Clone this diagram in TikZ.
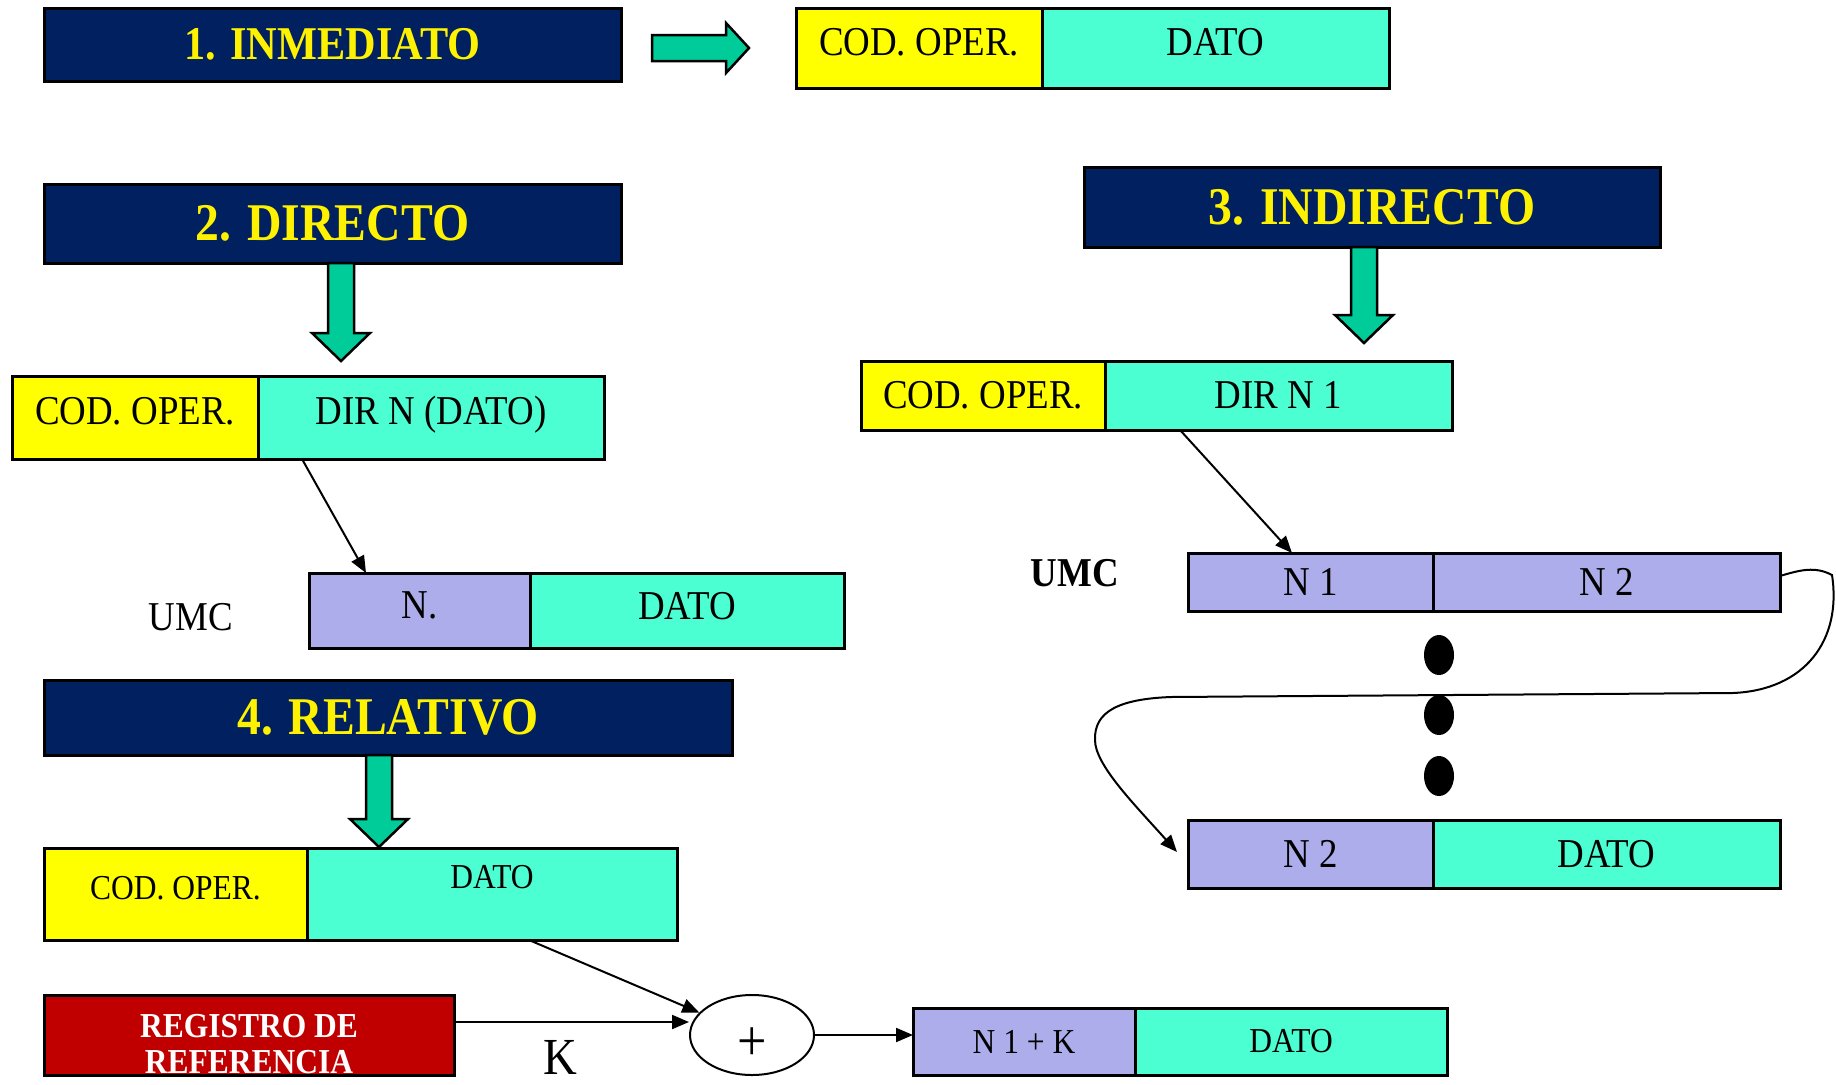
\documentclass[tikz,border=0pt]{standalone}
\usepackage{fontspec}
\setmainfont{Liberation Serif}[FakeStretch=0.9]
\usetikzlibrary{positioning,calc,arrows.meta,shapes.geometric}
\definecolor{hdrblue}{RGB}{0,32,96}
\definecolor{opyellow}{RGB}{255,255,0}
\definecolor{datagreen}{RGB}{75,255,210}
\definecolor{arrowgreen}{RGB}{0,204,153}
\definecolor{memblue}{RGB}{173,173,235}
\definecolor{regred}{RGB}{192,0,0}
\tikzset{
  cell/.style={
    draw,
    line width=3pt,
    inner sep=0pt,
    outer sep=0pt,
    anchor=north west,
    font=\fontsize{41}{44}\selectfont
  },
  hdr/.style={
    cell,
    fill=hdrblue,
    text=yellow,
    font=\fontsize{53}{56}\selectfont\bfseries
  },
  opcode/.style={cell, fill=opyellow},
  datafield/.style={cell, fill=datagreen},
  memcell/.style={cell, fill=memblue},
  small cell/.style={font=\fontsize{35}{38}\selectfont},
  blockarrow/.style={
    draw,
    line width=2.5pt,
    fill=arrowgreen,
    line join=miter
  },
  conn/.style={
    line width=2pt,
    -{Triangle[length=17pt,width=14pt]}
  }
}

\begin{document}
\begin{tikzpicture}[x=1pt, y=-1pt]
 \useasboundingbox (0,0) rectangle (1836,1084);

 % 1. inmediato
 \node[hdr, minimum width=577pt, minimum height=73pt,
   font=\fontsize{47}{50}\selectfont\bfseries] (hdr_1) at (44,8) {1. INMEDIATO};
 \coordinate (arr_1) at (652,48);
 \draw[blockarrow] (arr_1) ++(0,-13) -- ++(74,0) -- ++(0,-12) -- ++(23,25)
   -- ++(-23,25) -- ++(0,-12) -- ++(-74,0) -- cycle;
 \node[opcode, minimum width=246pt, minimum height=80pt, text depth=12pt] (cod_1) at (796,8) {COD. OPER.};
 \node[datafield, minimum width=347pt, minimum height=80pt, text depth=12pt] (dato_1) [right=0pt of cod_1] {DATO};

 % 2. directo
 \node[hdr, minimum width=577pt, minimum height=79pt] (hdr_2) at (44,184) {2. DIRECTO};
 \coordinate (arr_2) at (341,263);
 \draw[blockarrow] (arr_2) ++(-13,0) -- ++(0,70) -- ++(-16,0) -- ++(29,28)
   -- ++(29,-28) -- ++(-16,0) -- ++(0,-70) -- cycle;
 \node[opcode, minimum width=246pt, minimum height=83pt, text depth=14pt] (cod_2) at (12,376) {COD. OPER.};
 \node[datafield, minimum width=346pt, minimum height=83pt, text depth=14pt] (dir_2) [right=0pt of cod_2] {DIR N (DATO)};
 \node[font=\fontsize{41}{44}\selectfont] (umc_2) at (191,617) {UMC};
 \node[memcell, minimum width=221pt, minimum height=75pt, text depth=10pt] (n_2) at (309,573) {N.};
 \node[datafield, minimum width=314pt, minimum height=75pt, text depth=10pt] (dato_2) [right=0pt of n_2] {DATO};
 \draw[conn] ([xshift=44pt]dir_2.south west) -- ([xshift=57pt]n_2.north west);

 % 3. indirecto
 \node[hdr, minimum width=576pt, minimum height=80pt] (hdr_3) at (1084,167) {3. INDIRECTO};
 \coordinate (arr_3) at (1364,247);
 \draw[blockarrow] (arr_3) ++(-13,0) -- ++(0,68) -- ++(-16,0) -- ++(29,28)
   -- ++(29,-28) -- ++(-16,0) -- ++(0,-68) -- cycle;
 \node[opcode, minimum width=244pt, minimum height=69pt] (cod_3) at (861,361) {COD. OPER.};
 \node[datafield, minimum width=347pt, minimum height=69pt] (dir_3) [right=0pt of cod_3] {DIR N 1};
 \node[font=\fontsize{41}{44}\selectfont\bfseries] (umc_3) at (1075,573) {UMC};
 \node[memcell, minimum width=245pt, minimum height=58pt] (n1_3) at (1188,553) {N 1};
 \node[memcell, minimum width=347pt, minimum height=58pt] (n2_3) [right=0pt of n1_3] {N 2};
 \foreach \y in {655,715,776}
   \fill (1439,\y) ellipse [x radius=15pt, y radius=20pt];
 \node[memcell, minimum width=245pt, minimum height=68pt] (n2b_3) at (1188,820) {N 2};
 \node[datafield, minimum width=347pt, minimum height=68pt] (dato_3) [right=0pt of n2b_3] {DATO};
 \draw[conn] ([xshift=75pt]dir_3.south west) -- ([xshift=104pt]n1_3.north west);
 \draw[conn] ([yshift=6pt]n2_3.east) .. controls (1800,570) and (1815,566) .. (1832,575)
   .. controls (1842,640) and (1805,690) .. (1733,693) -- (1171,697)
   .. controls (1118,699) and (1094,712) .. (1095,740)
   .. controls (1095,765) and (1135,805) .. ([xshift=-11pt,yshift=2pt]n2b_3.west);

 % 4. relativo
 \node[hdr, minimum width=688pt, minimum height=75pt] (hdr_4) at (44,680) {4. RELATIVO};
 \coordinate (arr_4) at (379,755);
 \draw[blockarrow] (arr_4) ++(-13,0) -- ++(0,64) -- ++(-16,0) -- ++(29,28)
   -- ++(29,-28) -- ++(-16,0) -- ++(0,-64) -- cycle;
 \node[opcode, small cell, minimum width=263pt, minimum height=92pt, text depth=12pt] (cod_4) at (44,848) {COD. OPER.};
 \node[datafield, small cell, minimum width=370pt, minimum height=92pt, text depth=34pt] (dato_4) [right=0pt of cod_4] {DATO};
 \node[cell, fill=regred, minimum width=410pt, minimum height=80pt] (reg_4) at (44,995) {};
 \node[text=white, align=center, font=\fontsize{35}{36}\selectfont\bfseries]
   (regtxt_4) at ([yshift=-9pt]reg_4.center) {REGISTRO DE\\REFERENCIA};
 \node[font=\fontsize{52}{54}\selectfont] (k_4) at (560,1057) {K};
 \node[draw, ellipse, line width=2pt, inner sep=0pt, minimum width=124pt, minimum height=80pt,
   text height=50pt, text depth=0pt, font=\fontsize{58}{60}\selectfont] (sum_4) at (752,1035) {+};
 \node[memcell, small cell, minimum width=222pt, minimum height=67pt] (nk_4) at (913,1008) {N 1 + K};
 \node[datafield, small cell, minimum width=312pt, minimum height=67pt] (datob_4) [right=0pt of nk_4] {DATO};
 \draw[conn] ([xshift=222pt]dato_4.south west) -- (sum_4);
 \draw[conn] ([yshift=13pt]reg_4.east) -- ([yshift=13pt]sum_4.west);
 \draw[conn] (sum_4.east) -- (sum_4.east -| nk_4.west);
\end{tikzpicture}
\end{document}
